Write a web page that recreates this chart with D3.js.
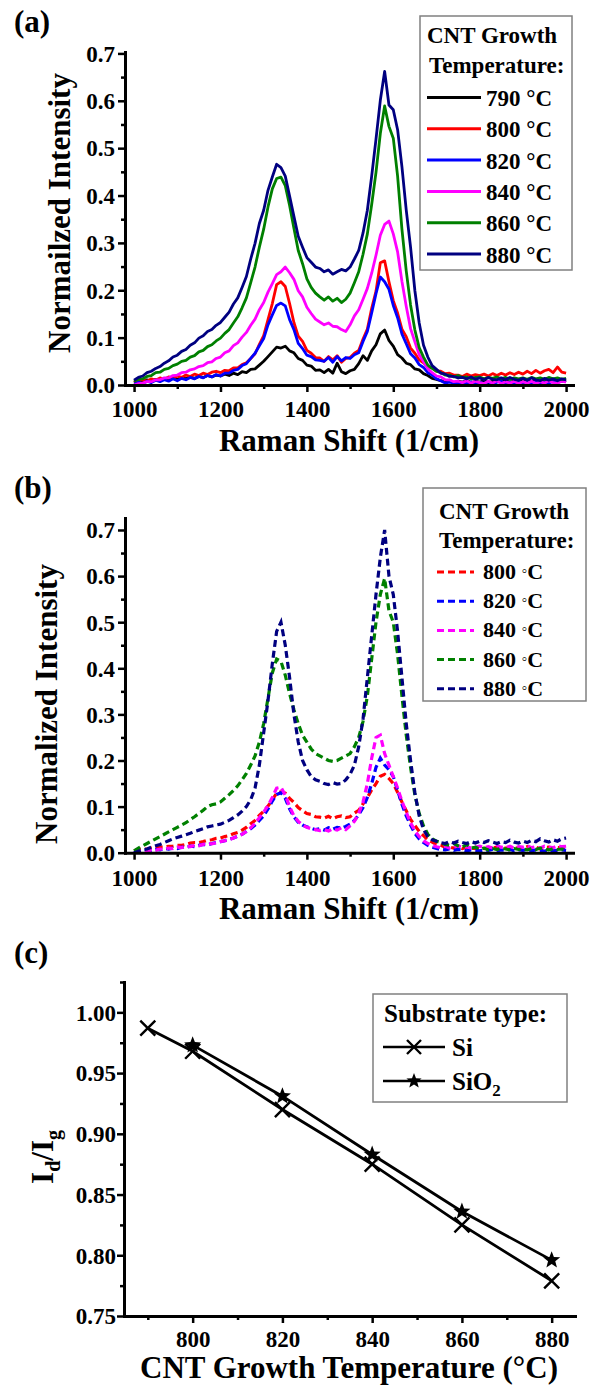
<!DOCTYPE html>
<html>
<head>
<meta charset="utf-8">
<script src="https://cdn.jsdelivr.net/npm/d3@7"></script>
<style>
  html, body { margin: 0; padding: 0; background: #fff; }
  svg { display: block; }
  svg text { font-family: 'Liberation Serif', 'Times New Roman', 'DejaVu Serif', serif; font-weight: bold; }
</style>
</head>
<body>
<svg id="fig" width="598" height="1385"></svg>
<script>
// ---------- data ----------
// Raman shift grid (1/cm), one sample every 10 1/cm
const ramanShift = d3.range(1000, 2001, 10);

// (a) spectra on Si, normalized intensity
const specA790 = [.005,.009,.006,.011,.008,.012,.009,.014,.011,.015,
 .012,.016,.013,.017,.014,.018,.016,.020,.017,.021,
 .019,.023,.020,.025,.022,.028,.026,.033,.034,.042,
 .050,.060,.070,.080,.078,.082,.072,.068,.056,.052,
 .042,.040,.031,.032,.026,.033,.025,.046,.028,.024,
 .030,.033,.045,.062,.052,.072,.085,.108,.116,.094,
 .082,.064,.057,.046,.043,.034,.032,.024,.020,.014,
 .012,.009,.007,.010,.005,.008,.006,.010,.005,.008,
 .006,.009,.005,.008,.011,.006,.010,.005,.009,.011,
 .006,.010,.007,.011,.006,.010,.012,.007,.011,.008,
 .010];
const specA800 = [.005,.009,.011,.008,.013,.010,.015,.012,.017,.014,
 .019,.016,.021,.018,.023,.020,.025,.022,.027,.029,
 .026,.031,.030,.036,.036,.043,.047,.056,.066,.086,
 .104,.138,.172,.212,.218,.208,.172,.132,.103,.092,
 .073,.067,.058,.057,.050,.060,.053,.062,.048,.056,
 .058,.067,.073,.097,.118,.162,.198,.258,.262,.218,
 .178,.152,.118,.102,.078,.067,.053,.047,.038,.036,
 .029,.029,.024,.025,.021,.021,.018,.023,.019,.022,
 .020,.023,.019,.024,.020,.025,.021,.026,.022,.027,
 .023,.029,.024,.031,.025,.030,.033,.026,.038,.027,
 .025];
const specA820 = [.002,.006,.003,.008,.005,.010,.007,.011,.008,.013,
 .009,.014,.011,.016,.013,.018,.015,.020,.017,.022,
 .019,.025,.025,.031,.033,.041,.045,.056,.067,.083,
 .098,.127,.148,.168,.173,.167,.138,.117,.088,.077,
 .063,.060,.053,.052,.050,.058,.048,.060,.051,.058,
 .056,.064,.068,.092,.113,.152,.193,.228,.218,.202,
 .168,.142,.108,.087,.066,.057,.043,.037,.026,.021,
 .013,.009,.004,.006,.004,.002,.006,.003,.007,.002,
 .006,.003,.007,.002,.006,.008,.003,.007,.002,.006,
 .003,.007,.004,.008,.003,.007,.004,.008,.005,.009,
 .007];
const specA840 = [.000,.003,.004,.007,.007,.011,.011,.015,.015,.020,
 .021,.026,.027,.032,.034,.039,.041,.047,.049,.056,
 .059,.068,.072,.083,.089,.101,.111,.126,.139,.159,
 .174,.196,.214,.233,.239,.249,.237,.223,.199,.186,
 .164,.151,.139,.133,.127,.131,.124,.123,.117,.113,
 .127,.146,.159,.181,.204,.236,.274,.316,.339,.346,
 .319,.281,.219,.166,.119,.091,.064,.049,.034,.026,
 .019,.017,.011,.011,.007,.008,.005,.009,.004,.008,
 .005,.003,.008,.004,.009,.003,.007,.004,.008,.003,
 .007,.004,.008,.003,.007,.004,.009,.005,.004,.008,
 .006];
const specA860 = [.008,.012,.013,.018,.020,.026,.027,.033,.035,.041,
 .044,.050,.052,.059,.062,.070,.073,.081,.085,.093,
 .099,.109,.117,.131,.144,.163,.184,.216,.249,.291,
 .329,.376,.414,.436,.439,.421,.379,.331,.284,.256,
 .224,.206,.194,.186,.179,.186,.177,.183,.174,.181,
 .194,.216,.239,.276,.319,.381,.449,.531,.589,.546,
 .521,.441,.329,.241,.169,.116,.079,.059,.042,.035,
 .029,.026,.021,.021,.017,.020,.016,.017,.013,.016,
 .017,.013,.016,.014,.017,.013,.016,.012,.015,.013,
 .015,.012,.016,.013,.015,.012,.016,.013,.015,.012,
 .014];
const specA880 = [.010,.016,.019,.026,.029,.035,.039,.046,.051,.059,
 .063,.071,.075,.084,.089,.099,.104,.113,.117,.126,
 .132,.143,.154,.171,.184,.206,.229,.266,.299,.341,
 .369,.411,.439,.466,.459,.441,.399,.356,.314,.291,
 .269,.259,.249,.246,.239,.243,.234,.239,.244,.241,
 .249,.266,.284,.321,.369,.441,.519,.601,.662,.591,
 .581,.539,.461,.369,.291,.199,.131,.084,.059,.041,
 .033,.025,.023,.018,.018,.015,.016,.013,.017,.012,
 .015,.011,.016,.012,.011,.015,.011,.016,.012,.010,
 .014,.010,.015,.011,.009,.014,.010,.013,.009,.013,
 .011];

// (b) spectra on SiO2, normalized intensity
const specB800 = [.004,.007,.008,.008,.010,.010,.012,.012,.014,.014,
 .016,.016,.018,.021,.022,.022,.024,.027,.028,.031,
 .032,.035,.037,.041,.044,.049,.055,.063,.070,.081,
 .090,.101,.115,.129,.132,.129,.118,.109,.098,.091,
 .085,.083,.078,.077,.075,.079,.074,.078,.080,.076,
 .078,.086,.092,.106,.120,.136,.150,.166,.170,.161,
 .150,.131,.110,.091,.072,.059,.046,.037,.028,.023,
 .018,.016,.012,.012,.010,.013,.009,.012,.010,.009,
 .010,.009,.011,.010,.012,.009,.010,.010,.011,.009,
 .010,.013,.009,.012,.008,.011,.012,.010,.011,.011,
 .012];
const specB820 = [.000,.003,.002,.005,.004,.007,.006,.009,.008,.010,
 .009,.012,.011,.014,.013,.016,.018,.017,.020,.022,
 .024,.026,.029,.032,.036,.040,.046,.052,.060,.070,
 .080,.095,.112,.126,.130,.118,.095,.078,.066,.060,
 .056,.053,.050,.052,.049,.054,.051,.055,.053,.057,
 .062,.070,.082,.098,.120,.150,.185,.205,.190,.180,
 .165,.135,.105,.080,.060,.042,.030,.022,.016,.012,
 .009,.007,.006,.008,.005,.007,.006,.004,.006,.005,
 .004,.006,.005,.007,.004,.006,.005,.007,.004,.006,
 .005,.007,.004,.006,.005,.003,.006,.004,.005,.006,
 .005];
const specB840 = [.000,.002,.004,.003,.006,.005,.008,.007,.010,.009,
 .012,.011,.014,.013,.016,.015,.018,.020,.019,.022,
 .024,.026,.028,.032,.036,.040,.046,.054,.064,.076,
 .088,.102,.120,.140,.142,.125,.100,.080,.068,.060,
 .055,.052,.050,.048,.050,.047,.052,.049,.054,.050,
 .058,.068,.085,.110,.150,.205,.250,.255,.215,.190,
 .165,.140,.112,.088,.065,.048,.035,.026,.020,.016,
 .013,.011,.014,.010,.012,.015,.011,.013,.010,.012,
 .014,.011,.013,.010,.015,.012,.011,.014,.010,.013,
 .012,.015,.011,.013,.010,.014,.012,.011,.015,.013,
 .014];
const specB860 = [.004,.010,.015,.020,.025,.030,.035,.040,.045,.050,
 .055,.060,.065,.072,.078,.085,.092,.100,.104,.106,
 .110,.118,.126,.135,.145,.158,.172,.190,.210,.240,
 .280,.335,.390,.420,.415,.385,.345,.310,.280,.255,
 .240,.225,.215,.210,.205,.200,.198,.200,.205,.210,
 .215,.230,.250,.285,.340,.420,.500,.560,.595,.525,
 .500,.430,.340,.255,.185,.125,.085,.058,.040,.030,
 .025,.022,.018,.016,.020,.015,.012,.018,.010,.012,
 .008,.010,.006,.009,.007,.010,.008,.006,.009,.007,
 .008,.006,.009,.007,.010,.008,.006,.009,.007,.008,
 .006];
const specB880 = [.000,.003,.006,.008,.012,.015,.018,.022,.026,.030,
 .033,.036,.039,.042,.046,.049,.052,.056,.058,.060,
 .062,.066,.070,.076,.082,.090,.100,.115,.140,.190,
 .260,.330,.410,.480,.500,.450,.380,.300,.240,.200,
 .180,.165,.158,.155,.150,.148,.152,.149,.150,.158,
 .170,.190,.230,.290,.380,.470,.560,.640,.700,.600,
 .560,.480,.380,.280,.200,.130,.080,.050,.035,.028,
 .025,.022,.020,.024,.021,.025,.022,.020,.024,.021,
 .025,.022,.026,.023,.020,.024,.022,.027,.023,.021,
 .025,.022,.027,.024,.030,.026,.023,.028,.025,.030,
 .032];

const tempLabelsA = ["790", "800", "820", "840", "860", "880"];
const tempLabelsB = ["800", "820", "840", "860", "880"];
const seriesA = [specA790, specA800, specA820, specA840, specA860, specA880];
const seriesB = [specB800, specB820, specB840, specB860, specB880];
const tempColors = {"790": "#000000", "800": "#ff0000", "820": "#0000ff",
                    "840": "#ff00ff", "860": "#008000", "880": "#000080"};

const ramanTicks = [1000, 1200, 1400, 1600, 1800, 2000];
const ramanMinor = [1100, 1300, 1500, 1700, 1900];
const intensityTicks = [0, 0.1, 0.2, 0.3, 0.4, 0.5, 0.6, 0.7];
const intensityMinor = [0.05, 0.15, 0.25, 0.35, 0.45, 0.55, 0.65];

// (c) Id/Ig ratio versus growth temperature
const growthTempsSi = [790, 800, 820, 840, 860, 880];
const ratioSi = [0.987, 0.968, 0.920, 0.875, 0.825, 0.779];
const growthTempsSiO2 = [800, 820, 840, 860, 880];
const ratioSiO2 = [0.973, 0.931, 0.883, 0.836, 0.796];
const tempTicks = [800, 820, 840, 860, 880];
const tempMinor = [790, 810, 830, 850, 870];
const ratioTicks = [0.75, 0.80, 0.85, 0.90, 0.95, 1.00];
const ratioMinor = [0.775, 0.825, 0.875, 0.925, 0.975, 1.025];

// ---------- drawing ----------
const svg = d3.select("#fig");

function styleAxis(sel) {
  sel.attr("font-family", null).attr("font-size", 23);
  sel.select(".domain").attr("stroke", "#000").attr("stroke-width", 3).attr("stroke-linecap", "square");
  sel.selectAll(".tick line").attr("stroke", "#000").attr("stroke-width", 2.5);
  sel.selectAll(".tick text").attr("fill", "#000");
}

function drawAxes(x, y, o) {
  const y0 = y.range()[0];
  const x0 = x.range()[0];
  const gx = svg.append("g").attr("transform", `translate(0,${y0})`)
    .call(d3.axisBottom(x).tickValues(o.xMajor).tickSize(7).tickSizeOuter(0).tickFormat(o.xFmt));
  styleAxis(gx);
  gx.selectAll(".tick text").attr("y", o.xLabelY).attr("dy", 0);
  const gxm = svg.append("g").attr("transform", `translate(0,${y0})`)
    .call(d3.axisBottom(x).tickValues(o.xMinor).tickSize(4).tickFormat(""));
  gxm.select(".domain").remove();
  gxm.selectAll(".tick line").attr("stroke", "#000").attr("stroke-width", 2.5);

  const gy = svg.append("g").attr("transform", `translate(${x0},0)`)
    .call(d3.axisLeft(y).tickValues(o.yMajor).tickSize(7).tickSizeOuter(0).tickFormat(o.yFmt));
  styleAxis(gy);
  gy.selectAll(".tick text").attr("x", o.yLabelX).attr("dy", "0.34em");
  const gym = svg.append("g").attr("transform", `translate(${x0},0)`)
    .call(d3.axisLeft(y).tickValues(o.yMinor).tickSize(4).tickFormat(""));
  gym.select(".domain").remove();
  gym.selectAll(".tick line").attr("stroke", "#000").attr("stroke-width", 2.5);
}

function panelLabel(txt, x, y) {
  svg.append("text").attr("x", x).attr("y", y).attr("font-size", 31).text(txt);
}

function axisTitleX(txt, cx, y) {
  svg.append("text").attr("x", cx).attr("y", y).attr("text-anchor", "middle")
    .attr("font-size", 31).text(txt);
}

function axisTitleY(txt, x, cy) {
  svg.append("text").attr("transform", `translate(${x},${cy}) rotate(-90)`)
    .attr("text-anchor", "middle").attr("font-size", 31).text(txt);
}

// ----- panel (a) -----
const xA = d3.scaleLinear().domain([979, 2016]).range([125, 573]);
const yA = d3.scaleLinear().domain([0, 0.703]).range([385, 52]);
const lineA = d3.line().x((d, i) => xA(ramanShift[i])).y(d => yA(d));

panelLabel("(a)", 14, 32);
seriesA.forEach((vals, k) => {
  svg.append("path").datum(vals).attr("d", lineA)
    .attr("fill", "none").attr("stroke", tempColors[tempLabelsA[k]])
    .attr("stroke-width", 2.8).attr("stroke-linejoin", "round");
});
drawAxes(xA, yA, {xMajor: ramanTicks, xMinor: ramanMinor, xFmt: d3.format("d"), xLabelY: 32,
  yMajor: intensityTicks, yMinor: intensityMinor, yFmt: d3.format(".1f"), yLabelX: -10});
axisTitleX("Raman Shift (1/cm)", 349, 451);
axisTitleY("Normailzed Intensity", 70, 213);

// legend (a)
const legA = svg.append("g");
legA.append("rect").attr("x", 420).attr("y", 16).attr("width", 152).attr("height", 254)
  .attr("fill", "#fff").attr("stroke", "#808080").attr("stroke-width", 1.5);
legA.append("text").attr("x", 427).attr("y", 43).attr("font-size", 23).text("CNT Growth");
legA.append("text").attr("x", 429).attr("y", 73).attr("font-size", 23).text("Temperature:");
tempLabelsA.forEach((t, i) => {
  const ly = 97.5 + i * 31.3;
  legA.append("line").attr("x1", 427).attr("x2", 481).attr("y1", ly).attr("y2", ly)
    .attr("stroke", tempColors[t]).attr("stroke-width", 3);
  legA.append("text").attr("x", 486).attr("y", ly + 8.5).attr("font-size", 23).text(`${t} °C`);
});

// ----- panel (b) -----
const xB = d3.scaleLinear().domain([979, 2016]).range([125, 573]);
const yB = d3.scaleLinear().domain([0, 0.726]).range([852.7, 518]);
const lineB = d3.line().x((d, i) => xB(ramanShift[i])).y(d => yB(d));

panelLabel("(b)", 14, 498);
seriesB.forEach((vals, k) => {
  svg.append("path").datum(vals).attr("d", lineB)
    .attr("fill", "none").attr("stroke", tempColors[tempLabelsB[k]])
    .attr("stroke-width", 3.2).attr("stroke-dasharray", "7,4");
});
drawAxes(xB, yB, {xMajor: ramanTicks, xMinor: ramanMinor, xFmt: d3.format("d"), xLabelY: 33,
  yMajor: intensityTicks, yMinor: intensityMinor, yFmt: d3.format(".1f"), yLabelX: -10});
axisTitleX("Raman Shift (1/cm)", 349, 919);
axisTitleY("Normalized Intensity", 57, 704);

// legend (b)
const legB = svg.append("g");
legB.append("rect").attr("x", 423).attr("y", 488).attr("width", 163).attr("height", 213)
  .attr("fill", "#fff").attr("stroke", "#808080").attr("stroke-width", 1.5);
legB.append("text").attr("x", 439).attr("y", 519).attr("font-size", 23).text("CNT Growth");
legB.append("text").attr("x", 439).attr("y", 548).attr("font-size", 23).text("Temperature:");
tempLabelsB.forEach((t, i) => {
  const ly = 572 + i * 29.2;
  legB.append("line").attr("x1", 437).attr("x2", 474).attr("y1", ly).attr("y2", ly)
    .attr("stroke", tempColors[t]).attr("stroke-width", 3).attr("stroke-dasharray", "7,4");
  const tx = legB.append("text").attr("x", 483).attr("y", ly + 7).attr("font-size", 22);
  tx.append("tspan").text(`${t} `);
  tx.append("tspan").attr("font-size", 16).attr("dy", -3).text("\u25E6");
  tx.append("tspan").attr("dy", 3).text("C");
});

// ----- panel (c) -----
const xC = d3.scaleLinear().domain([784.7, 885.2]).range([124, 575]);
const yC = d3.scaleLinear().domain([0.75, 1.025]).range([1316, 982]);
panelLabel("(c)", 14, 963);

const lineSi = d3.line().x((d, i) => xC(growthTempsSi[i])).y(d => yC(d));
const lineSiO2 = d3.line().x((d, i) => xC(growthTempsSiO2[i])).y(d => yC(d));
svg.append("path").datum(ratioSi).attr("d", lineSi).attr("fill", "none")
  .attr("stroke", "#000").attr("stroke-width", 2.8);
svg.append("path").datum(ratioSiO2).attr("d", lineSiO2).attr("fill", "none")
  .attr("stroke", "#000").attr("stroke-width", 2.8);

function crossPath(r) {
  return `M${-r},${-r}L${r},${r}M${-r},${r}L${r},${-r}`;
}
function starPath(R, r) {
  let p = "";
  for (let k = 0; k < 10; k++) {
    const a = -Math.PI / 2 + k * Math.PI / 5;
    const rad = k % 2 === 0 ? R : r;
    p += (k === 0 ? "M" : "L") + (rad * Math.cos(a)).toFixed(2) + "," + (rad * Math.sin(a)).toFixed(2);
  }
  return p + "Z";
}
ratioSi.forEach((v, i) => {
  svg.append("path").attr("d", crossPath(7.5))
    .attr("transform", `translate(${xC(growthTempsSi[i])},${yC(v)})`)
    .attr("stroke", "#000").attr("stroke-width", 2.4).attr("fill", "none");
});
ratioSiO2.forEach((v, i) => {
  svg.append("path").attr("d", starPath(9, 3.8))
    .attr("transform", `translate(${xC(growthTempsSiO2[i])},${yC(v)})`)
    .attr("fill", "#000");
});

drawAxes(xC, yC, {xMajor: tempTicks, xMinor: tempMinor, xFmt: d3.format("d"), xLabelY: 31,
  yMajor: ratioTicks, yMinor: ratioMinor, yFmt: d3.format(".2f"), yLabelX: -8});
axisTitleX("CNT Growth Temperature (°C)", 349, 1378);

const yt = svg.append("text").attr("transform", "translate(53,1157) rotate(-90)")
  .attr("text-anchor", "middle").attr("font-size", 31);
yt.append("tspan").text("I");
yt.append("tspan").attr("font-size", 20).attr("dy", 7).text("d");
yt.append("tspan").attr("dy", -7).text("/I");
yt.append("tspan").attr("font-size", 20).attr("dy", 7).text("g");

// legend (c)
const legC = svg.append("g");
legC.append("rect").attr("x", 373).attr("y", 994).attr("width", 194).attr("height", 108)
  .attr("fill", "#fff").attr("stroke", "#808080").attr("stroke-width", 1.5);
legC.append("text").attr("x", 384).attr("y", 1022).attr("font-size", 25).text("Substrate type:");
legC.append("line").attr("x1", 383).attr("x2", 445).attr("y1", 1047).attr("y2", 1047)
  .attr("stroke", "#000").attr("stroke-width", 2.6);
legC.append("path").attr("d", crossPath(7)).attr("transform", "translate(414,1047)")
  .attr("stroke", "#000").attr("stroke-width", 2.4).attr("fill", "none");
legC.append("text").attr("x", 452).attr("y", 1056).attr("font-size", 25).text("Si");
legC.append("line").attr("x1", 383).attr("x2", 445).attr("y1", 1081).attr("y2", 1081)
  .attr("stroke", "#000").attr("stroke-width", 2.6);
legC.append("path").attr("d", starPath(8, 3.4)).attr("transform", "translate(414,1081)")
  .attr("fill", "#000");
const sio2 = legC.append("text").attr("x", 452).attr("y", 1090).attr("font-size", 25);
sio2.append("tspan").text("SiO");
sio2.append("tspan").attr("font-size", 17).attr("dy", 6).text("2");
</script>
</body>
</html>
